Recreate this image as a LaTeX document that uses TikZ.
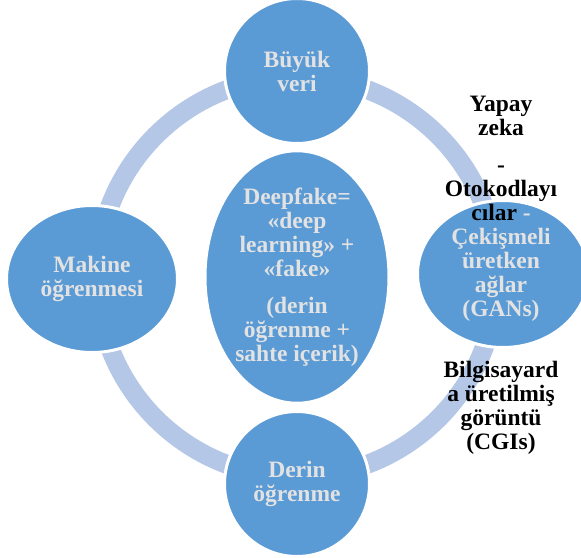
\documentclass[tikz,border=0pt]{standalone}
\usepackage{fontspec}
\setmainfont{Liberation Serif}
\usetikzlibrary{shapes.geometric}
\definecolor{nodeblue}{HTML}{5B9BD5}
\definecolor{ringblue}{HTML}{B4C7E7}
\definecolor{textgrey}{HTML}{E2E2E2}

\tikzstyle{pxfig}=[x=1pt,y=-1pt]
\tikzstyle{blob}=[ellipse,fill=nodeblue,draw=white,line width=3pt,inner sep=0pt,
  font=\bfseries\fontsize{23.5}{24}\selectfont,align=center,text=textgrey]
\tikzstyle{ring}=[draw=ringblue,line width=19pt]
\tikzstyle{outtext}=[font=\bfseries\fontsize{23.5}{24}\selectfont,align=center,inner sep=0pt]
\newcommand{\gr}[1]{\textcolor{textgrey}{#1}}

\begin{document}
\begin{tikzpicture}[style=pxfig]
\useasboundingbox (0,0) rectangle (581,557);

\coordinate (hub) at (297,277);
\draw[ring] (hub) circle (200);

\node[blob,minimum width=184pt,minimum height=224pt] (deep) at (hub)
  {Deepfake=\\«deep\\learning» +\\«fake»\\[13pt](derin\\öğrenme +\\sahte içerik)};
\node[blob,minimum size=145pt] (big) at (297,71) {Büyük\\veri};
\node[blob,minimum width=171pt,minimum height=147pt] (ml) at (92,279) {Makine\\öğrenmesi};
\node[blob,minimum size=145pt] (dl) at (297,484) {Derin\\öğrenme};
\node[blob,minimum width=171pt,minimum height=147pt] (ai) at (503,274) {};

\node[outtext] (aiText) at (501,209)
  {Yapay\\zeka\\[13pt]-\\Otokodlayı\\cılar \gr{-}\\\gr{Çekişmeli}\\\gr{üretken}\\\gr{ağlar}\\\gr{(GANs)}};
\node[outtext] (cgi) at (501,408) {Bilgisayard\\a üretilmiş\\görüntü\\(CGIs)};
\end{tikzpicture}
\end{document}
